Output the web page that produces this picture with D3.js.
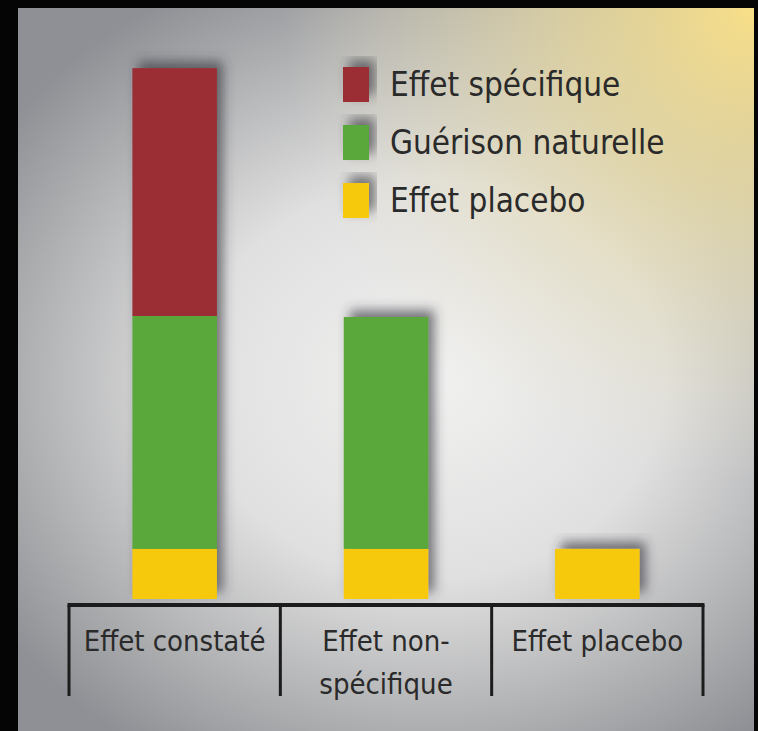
<!DOCTYPE html>
<html>
<head>
<meta charset="utf-8">
<script src="https://cdn.jsdelivr.net/npm/d3@7"></script>
<style>
  html, body { margin: 0; padding: 0; background: #000; }
  svg { display: block; }
  text { font-family: 'DejaVu Sans Condensed', 'DejaVu Sans', sans-serif; font-stretch: condensed; fill: #2a2a2a; }
</style>
</head>
<body>
<svg id="chart" width="758" height="731"></svg>
<script>
// categories (x axis), one label line per entry
const categories = ['Effet constaté', 'Effet non-spécifique', 'Effet placebo'];
const categoryLines = [['Effet constaté'], ['Effet non-', 'spécifique'], ['Effet placebo']];

// stacked series, bottom to top
const seriesKeys = ['placebo', 'naturelle', 'specifique'];
const seriesNames = { specifique: 'Effet spécifique', naturelle: 'Guérison naturelle', placebo: 'Effet placebo' };
const placebo = [9.4, 9.4, 9.4];
const naturelle = [43.7, 43.5, 0];
const specifique = [46.5, 0, 0];

// legend, top to bottom
const legendKeys = ['specifique', 'naturelle', 'placebo'];

const colors = { specifique: '#9b2e36', naturelle: '#5aa83a', placebo: '#f6c90e' };

const W = 758, H = 731;
const svg = d3.select('#chart');
const defs = svg.append('defs');

// background: black frame, grey panel with light centre and a yellow glow top right
svg.append('rect').attr('width', W).attr('height', H).attr('fill', '#050505');

const bg = defs.append('radialGradient').attr('id', 'bg')
  .attr('gradientUnits', 'userSpaceOnUse')
  .attr('cx', 430).attr('cy', 380).attr('r', 520)
  .attr('gradientTransform', 'translate(430,380) scale(1,0.85) translate(-430,-380)');
bg.append('stop').attr('offset', 0).attr('stop-color', '#f1f1f0');
bg.append('stop').attr('offset', 0.45).attr('stop-color', '#e0e0e0');
bg.append('stop').attr('offset', 0.8).attr('stop-color', '#acadaf');
bg.append('stop').attr('offset', 1).attr('stop-color', '#8f9095');

const glow = defs.append('radialGradient').attr('id', 'glow')
  .attr('gradientUnits', 'userSpaceOnUse')
  .attr('cx', 754).attr('cy', 8).attr('r', 470);
glow.append('stop').attr('offset', 0).attr('stop-color', '#f8df88').attr('stop-opacity', 1);
glow.append('stop').attr('offset', 0.4).attr('stop-color', '#eadba0').attr('stop-opacity', 0.75);
glow.append('stop').attr('offset', 1).attr('stop-color', '#e8e2c8').attr('stop-opacity', 0);

const panel = { x: 18, y: 8, w: 736, h: 723 };
svg.append('rect').attr('x', panel.x).attr('y', panel.y).attr('width', panel.w).attr('height', panel.h).attr('fill', 'url(#bg)');
svg.append('rect').attr('x', panel.x).attr('y', panel.y).attr('width', panel.w).attr('height', panel.h).attr('fill', 'url(#glow)');

const shadow = defs.append('filter').attr('id', 'shadow')
  .attr('x', '-30%').attr('y', '-30%').attr('width', '160%').attr('height', '160%');
shadow.append('feDropShadow').attr('dx', 6).attr('dy', -7).attr('stdDeviation', 6)
  .attr('flood-color', '#34343e').attr('flood-opacity', 0.65);

// scales
const x = d3.scaleBand().domain(categories).range([69, 703]).padding(0);
const y = d3.scaleLinear().domain([0, 100]).range([599, 66]);
const barW = x.bandwidth() * 0.4;

const rows = categories.map((c, i) => ({
  category: c, placebo: placebo[i], naturelle: naturelle[i], specifique: specifique[i]
}));
const stacked = d3.stack().keys(seriesKeys)(rows);

// bars, one group per category so the shadow follows the whole stack
const barGroups = svg.append('g').selectAll('g').data(rows).join('g')
  .attr('filter', 'url(#shadow)');
barGroups.each(function (row, i) {
  d3.select(this).selectAll('rect')
    .data(stacked.map(s => ({ key: s.key, seg: s[i] })).filter(d => d.seg[1] > d.seg[0]))
    .join('rect')
    .attr('x', x(row.category) + (x.bandwidth() - barW) / 2)
    .attr('width', barW)
    .attr('y', d => y(d.seg[1]))
    .attr('height', d => y(d.seg[0]) - y(d.seg[1]))
    .attr('fill', d => colors[d.key]);
});

// axis: baseline and separators between the categories
const axisY = 605;
const axisG = svg.append('g');
axisG.append('line')
  .attr('x1', x.range()[0] - 1.5).attr('x2', x.range()[1] + 1.5)
  .attr('y1', axisY).attr('y2', axisY)
  .attr('stroke', '#1c1c1c').attr('stroke-width', 4);
const edges = categories.map(c => x(c)).concat([x.range()[1]]);
axisG.selectAll('line.sep').data(edges).join('line')
  .attr('class', 'sep')
  .attr('x1', d => d).attr('x2', d => d)
  .attr('y1', axisY).attr('y2', 696)
  .attr('stroke', '#1c1c1c').attr('stroke-width', 3);

// category labels
const labels = svg.append('g').selectAll('text').data(categories).join('text')
  .attr('text-anchor', 'middle')
  .attr('font-size', 29)
  .attr('x', d => x(d) + x.bandwidth() / 2)
  .attr('y', 651);
labels.selectAll('tspan').data((d, i) => categoryLines[i]).join('tspan')
  .attr('x', function () { return d3.select(this.parentNode).attr('x'); })
  .attr('dy', (d, j) => j === 0 ? 0 : 43)
  .text(d => d);

// legend
const ly = d3.scalePoint().domain(legendKeys).range([84, 200]);
const legend = svg.append('g').selectAll('g').data(legendKeys).join('g')
  .attr('transform', d => `translate(343,${ly(d)})`);
legend.append('rect')
  .attr('x', 0).attr('y', -17).attr('width', 26).attr('height', 35)
  .attr('fill', d => colors[d])
  .attr('filter', 'url(#shadow)');
legend.append('text')
  .attr('x', 47).attr('y', 12)
  .attr('font-size', 33)
  .text(d => seriesNames[d]);
</script>
</body>
</html>
